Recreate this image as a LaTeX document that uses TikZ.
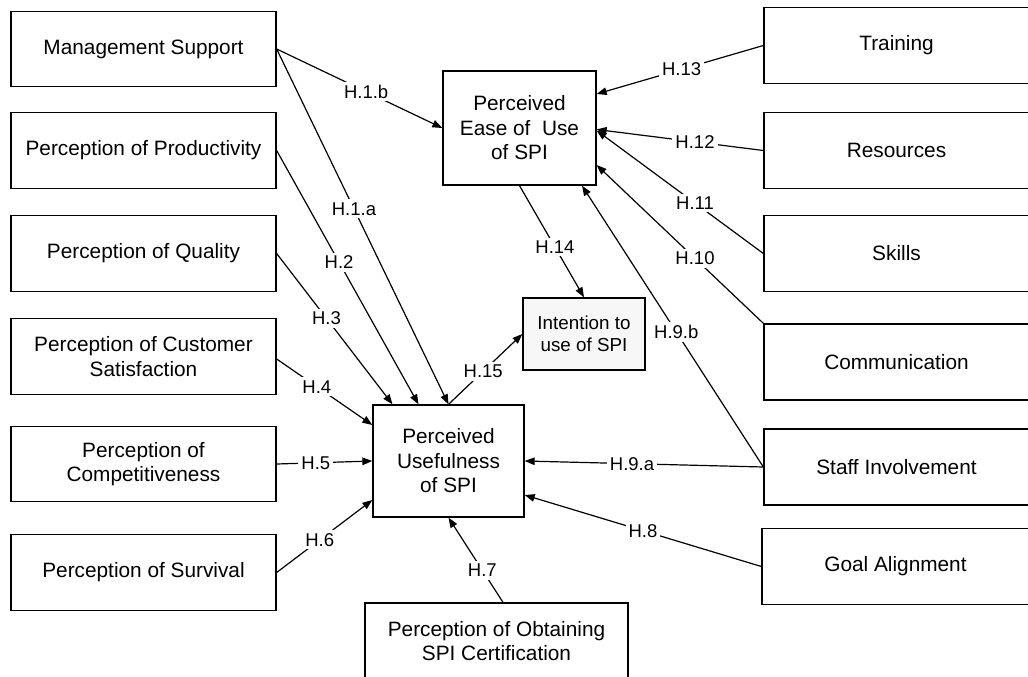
\documentclass[tikz,border=0pt]{standalone}
\usepackage{fontspec}
\setmainfont{Liberation Sans}
\usetikzlibrary{arrows.meta,calc}
\begin{document}
\begin{tikzpicture}[x=1pt,y=-1pt,
  box/.style={draw, line width=1.3pt, align=center, inner sep=0pt,
    font=\fontsize{20.8}{24.5}\selectfont},
  sidebox/.style={box, minimum width=265pt, minimum height=75.5pt},
  lbl/.style={fill=white, inner sep=3pt, font=\fontsize{18.5}{22}\selectfont},
  link/.style={line width=1.2pt, -{Triangle[length=10pt,width=7.5pt]}}]
\useasboundingbox (0,0) rectangle (1028,677);
\clip (0,0) rectangle (1028,677);

% left column: perceived benefits
\node[sidebox] (ms)   at (143.5,49)    {Management Support};
\node[sidebox] (prod) at (143.5,150.5) {Perception of Productivity};
\node[sidebox] (qual) at (143.5,253.5) {Perception of Quality};
\node[sidebox] (cust) at (143.5,356.5) {Perception of Customer\\Satisfaction};
\node[sidebox] (comp) at (143.5,464)   {Perception of\\Competitiveness};
\node[sidebox] (surv) at (143.5,572.5) {Perception of Survival};

% right column: organisational factors
\node[sidebox] (train) at (896.5,45.5)  {Training};
\node[sidebox] (res)   at (896.5,150.5) {Resources};
\node[sidebox] (skill) at (896.5,253.5) {Skills};
\node[sidebox, minimum height=76pt] (comm)  at (896.5,362) {Communication};
\node[sidebox, minimum height=76pt] (staff) at (896.5,467) {Staff Involvement};
\node[sidebox, minimum width=267pt] (goal) at (895.5,566.5) {Goal Alignment};

% central constructs
\node[box, minimum width=153pt, minimum height=114pt] (peou) at (519.5,128)
  {Perceived\\Ease of\ \ Use\\of SPI};
\node[box, minimum width=151pt, minimum height=112pt] (pu) at (448.5,461)
  {Perceived\\Usefulness\\of SPI};
\node[box, fill=gray!6, minimum width=122pt, minimum height=72pt,
  font=\fontsize{18.8}{22}\selectfont] (intent) at (584,334)
  {Intention to\\use of SPI};
\node[box, minimum width=263pt, minimum height=76pt] (cert) at (496.5,641)
  {Perception of Obtaining\\SPI Certification};

% hypotheses
\draw[link] (ms.east) -- node[lbl,pos=0.54]{H.1.b} (peou.west);
\draw[link] (ms.east) -- node[lbl,pos=0.45]{H.1.a} (pu.north);
\draw[link] (prod.east) -- node[lbl,pos=0.44]{H.2} ([xshift=-30pt]pu.north);
\draw[link] (qual.east) -- node[lbl,pos=0.43]{H.3} ([xshift=-56pt]pu.north);
\draw[link] ([yshift=-2.5pt]cust.east) -- node[lbl,pos=0.42]{H.4} ([yshift=36pt]pu.west);
\draw[link] (comp.east) -- node[lbl,pos=0.41]{H.5} (pu.west);
\draw[link] (surv.east) -- node[lbl,pos=0.45]{H.6} ([yshift=-39pt]pu.west);
\draw[link] ([xshift=6.5pt]cert.north) -- node[lbl,pos=0.38]{H.7} (pu.south);
\draw[link] (goal.west) -- node[lbl,pos=0.5]{H.8} ([yshift=-34pt]pu.east);
\draw[link] (staff.west) -- node[lbl,pos=0.55]{H.9.a} (pu.east);
\draw[link] (staff.west) -- node[lbl,pos=0.48]{H.9.b} ([xshift=62.5pt]peou.south);
\draw[link] (comm.north west) -- node[lbl,pos=0.41]{H.10} ([yshift=-37pt]peou.east);
\draw[link] (skill.west) -- node[lbl,pos=0.41]{H.11} ([yshift=-2.5pt]peou.east);
\draw[link] (res.west) -- node[lbl,pos=0.41]{H.12} ([yshift=-1.5pt]peou.east);
\draw[link] (train.west) -- node[lbl,pos=0.49]{H.13} ([yshift=34pt]peou.east);
\draw[link] (peou.south) -- node[lbl,pos=0.55]{H.14} (intent.north);
\draw[link] (pu.north) -- node[lbl,pos=0.47]{H.15} (intent.west);
\end{tikzpicture}
\end{document}
